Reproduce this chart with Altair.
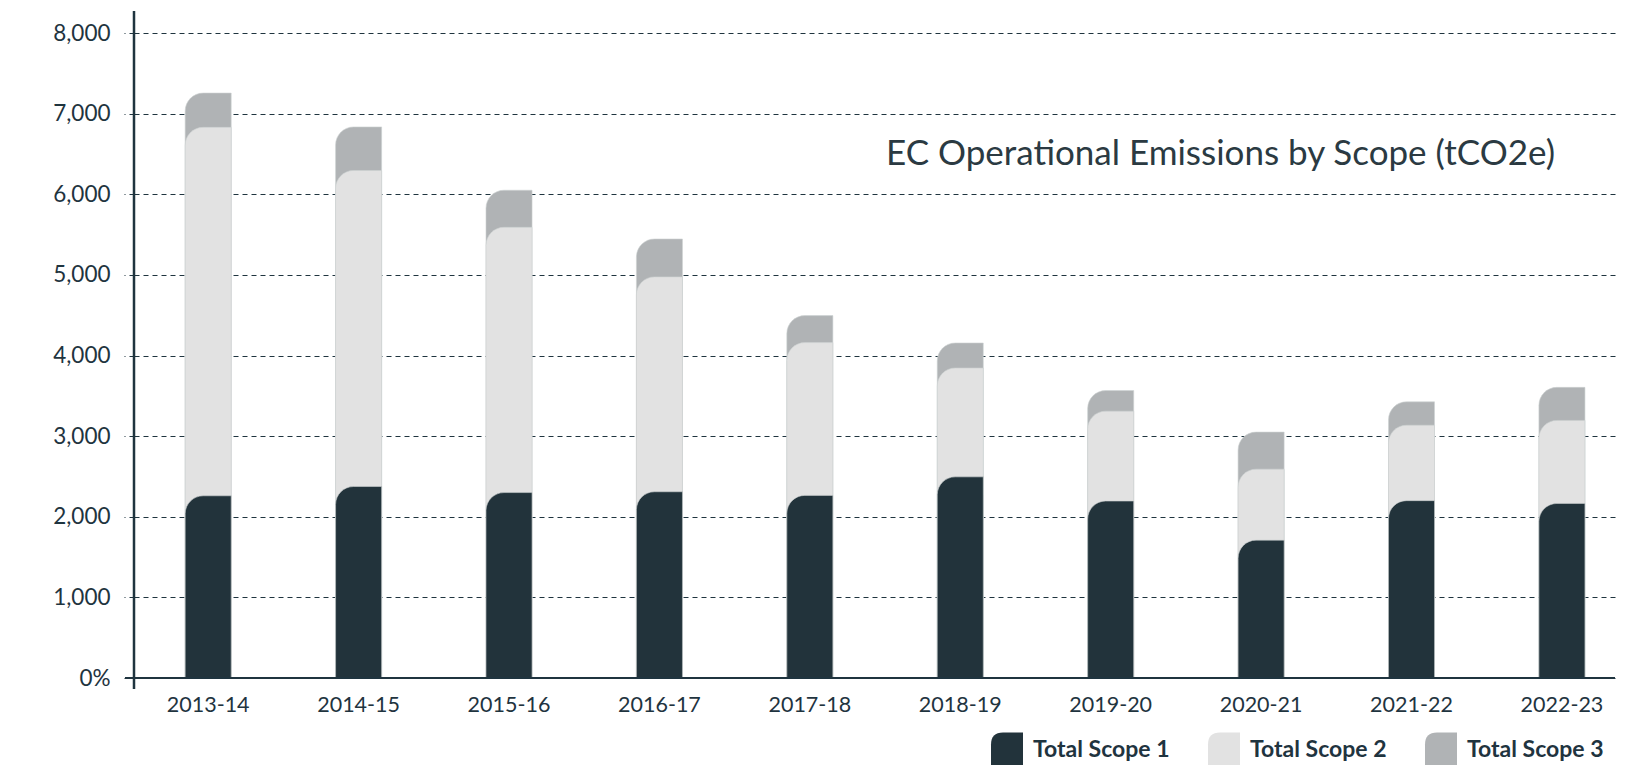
import altair as alt
import pandas as pd

years = ["2013-14", "2014-15", "2015-16", "2016-17", "2017-18",
         "2018-19", "2019-20", "2020-21", "2021-22", "2022-23"]
scope1 = [2260, 2375, 2300, 2310, 2265, 2495, 2195, 1710, 2200, 2165]
scope2 = [4570, 3920, 3290, 2665, 1895, 1350, 1115, 880, 935, 1030]
scope3 = [425, 540, 460, 470, 335, 310, 255, 460, 290, 410]

series_names = ["Total Scope 1", "Total Scope 2", "Total Scope 3"]
series_colors = ["#22333b", "#e2e2e2", "#b0b3b5"]
y_ticks = [0, 1000, 2000, 3000, 4000, 5000, 6000, 7000, 8000]
title_text = "EC Operational Emissions by Scope (tCO2e)"

rows = []
for i, yr in enumerate(years):
    for k, vals in enumerate([scope1, scope2, scope3]):
        rows.append({"year": yr, "series": series_names[k], "idx": k, "value": vals[i]})
df = pd.DataFrame(rows)

W, H = 1481, 667
FONT = "Lato"
DARK = "#1f343f"

legend_shape = "M-1,1.1 L-1,-0.35 C-1,-0.85 -0.75,-1.1 -0.25,-1.1 L1,-1.1 L1,1.1 Z"

bars = alt.Chart(df).transform_window(
    cum="sum(value)", groupby=["year"], sort=[alt.SortField("idx", order="ascending")],
    frame=[None, 0]
).mark_bar(cornerRadiusTopLeft=18, stroke="#cdd1d2", strokeWidth=0.6).encode(
    x=alt.X("year:N", sort=years, title=None,
            scale=alt.Scale(paddingInner=0.694, paddingOuter=0.27, align=0.63),
            axis=alt.Axis(domain=False, ticks=False, labelPadding=16, labelFontSize=21.5,
                          labelFont=FONT, labelColor=DARK, labelAngle=0, grid=False)),
    y=alt.Y("cum:Q", stack=None, title=None,
            scale=alt.Scale(domain=[0, 8273], nice=False, zero=True),
            axis=alt.Axis(values=y_ticks, domain=False, tickSize=10, tickDash=[5, 4],
                          tickColor=DARK, tickWidth=1, labelPadding=14,
                          labelFontSize=22.5, labelFont=FONT, labelColor=DARK,
                          labelExpr="datum.value == 0 ? '0%' : format(datum.value, ',')",
                          grid=True, gridDash=[5, 4], gridColor=DARK, gridWidth=1,
                          gridOpacity=1)),
    color=alt.Color("series:N", title=None,
                    scale=alt.Scale(domain=series_names, range=series_colors),
                    legend=alt.Legend(orient="none", direction="horizontal",
                                      legendX=857, legendY=723,
                                      symbolType=legend_shape, symbolSize=1024,
                                      symbolStrokeWidth=0, symbolOpacity=1,
                                      labelFont=FONT, labelFontWeight="bold",
                                      labelFontSize=23, labelColor=DARK,
                                      labelOffset=10, columnPadding=38, labelLimit=300)),
    order=alt.Order("idx:Q", sort="descending"),
)

one = alt.Data(values=[{"k": 1}])

y_line = alt.Chart(one).mark_rule(color=DARK, strokeWidth=2.5).encode(
    x=alt.value(0), y=alt.value(0), y2=alt.value(H + 11))
x_line = alt.Chart(one).mark_rule(color=DARK, strokeWidth=2).encode(
    x=alt.value(-9), x2=alt.value(W), y=alt.value(H))

title = alt.Chart(one).mark_text(
    text=title_text, font=FONT, fontSize=35, color="#2b3a42", align="right",
    baseline="middle").encode(x=alt.value(1421), y=alt.value(143))

chart = alt.layer(bars, y_line, x_line, title).properties(
    width=W, height=H,
    background="white",
    padding={"left": 126, "top": 3, "right": 20, "bottom": 87},
    autosize=alt.AutoSizeParams(type="none"),
).configure_view(stroke="transparent", strokeWidth=0)

chart.save("out.html", embed_options={"renderer": "svg", "actions": False})
